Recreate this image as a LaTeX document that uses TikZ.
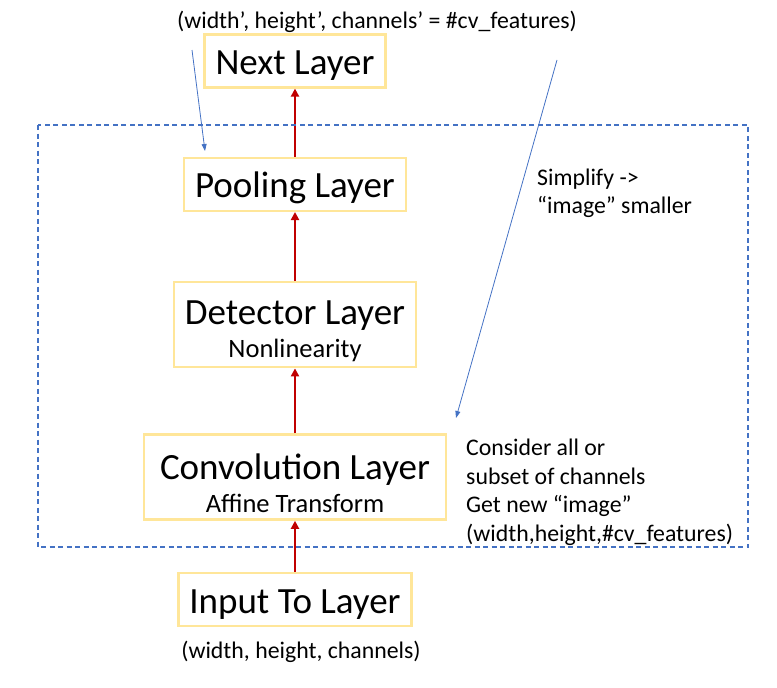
\documentclass[tikz,border=0pt]{standalone}
\usepackage{fontspec}
\setmainfont{Carlito}
\usepackage{xcolor}
\usetikzlibrary{positioning, arrows.meta}

\definecolor{boxgold}{HTML}{FFE699}
\definecolor{flowred}{HTML}{C00000}
\definecolor{hintblue}{HTML}{4472C4}

\begin{document}
\begin{tikzpicture}[
    x=1pt, y=-1pt,
    layer/.style={draw=boxgold, line width=2.4pt, rectangle, minimum height=53pt, inner xsep=11pt, inner ysep=0pt, align=center, font=\fontsize{37}{41}\selectfont},
    oneline/.style={layer, text height=31pt, text depth=4pt},
    twoline/.style={layer, minimum height=85pt},
    flow/.style={-{Triangle[length=8pt, width=8pt]}, flowred, line width=2.6pt},
    hint/.style={-{Triangle[length=7pt, width=5pt]}, hintblue, line width=0.8pt},
    remark/.style={font=\fontsize{23.8}{28.5}\selectfont, align=left, inner sep=0pt}
]
\useasboundingbox (0,0) rectangle (777,688);

% Layer stack
\node[oneline] (input) at (295,599.5) {Input To Layer};
\node[twoline, minimum width=302pt, above=51pt of input] (conv) {\rule{0pt}{37pt}Convolution Layer\\[-8pt]{\fontsize{26.5}{30}\selectfont Affine Transform}};
\node[twoline, above=65pt of conv] (detect) {\rule{0pt}{37pt}Detector Layer\\[-8pt]{\fontsize{26.5}{30}\selectfont Nonlinearity}};
\node[oneline, above=69pt of detect] (pool) {Pooling Layer};
\node[oneline, above=68pt of pool] (next) {Next Layer};

\draw[flow] (input) -- (conv);
\draw[flow] (conv) -- (detect);
\draw[flow] (detect) -- (pool);
\draw[flow] (pool) -- (next);

% Dashed frame round one layer
\draw[hintblue, line width=1.1pt, dash pattern=on 5pt off 3.5pt] (38,125) rectangle (748,547);

% Shapes and notes
\node[remark] (outshape) at (377,22) {(width’, height’, channels’ = \#cv\_features)};
\node[remark] (inshape) at (301,652) {(width, height, channels)};
\node[remark, anchor=west] (simplify) at (537,193.5) {Simplify ->\\“image” smaller};
\node[remark, anchor=west] (consider) at (466,492.5) {Consider all or\\subset of channels\\Get new “image”\\(width,height,\#cv\_features)};

\coordinate (outfoot) at (192,50);
\coordinate (pooltip) at (205,151);
\coordinate (simpfoot) at (557,60);
\coordinate (convtip) at (456,418);
\draw[hint] (outfoot) -- (pooltip);
\draw[hint] (simpfoot) -- (convtip);

\end{tikzpicture}
\end{document}
